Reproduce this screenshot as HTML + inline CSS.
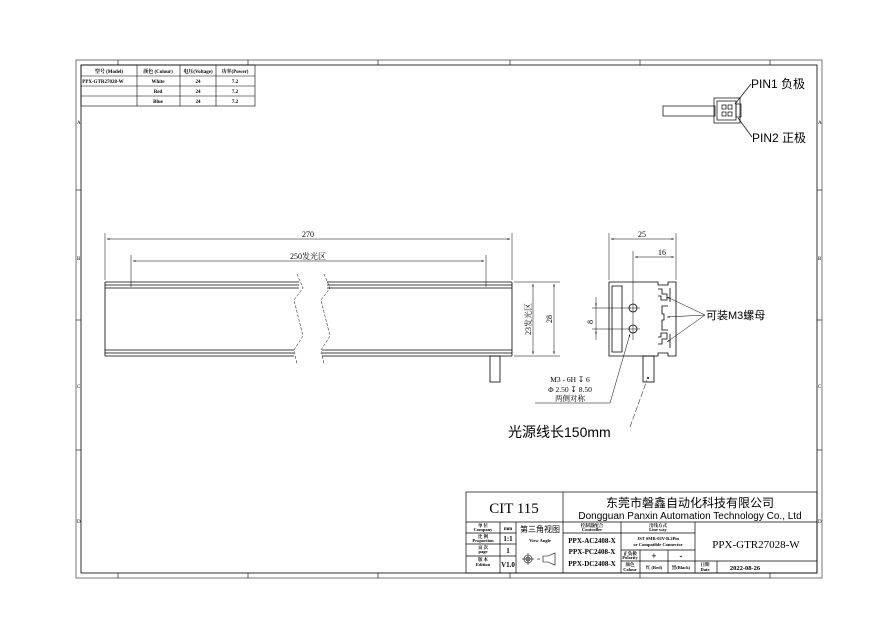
<!DOCTYPE html>
<html><head><meta charset="utf-8"><style>
html,body{margin:0;padding:0;background:#fff;}
svg{display:block;}
text{font-family:"Liberation Serif","Noto Serif CJK SC",serif;fill:#000;}
.s{font-family:"Liberation Sans","Noto Sans CJK SC",sans-serif;}
.b{font-family:"Liberation Sans","Noto Sans CJK SC",sans-serif;font-weight:bold;}
</style></head><body>
<svg width="885" height="642" viewBox="0 0 885 642" xmlns="http://www.w3.org/2000/svg">
<defs>
<marker id="a" viewBox="0 0 10 10" refX="10" refY="5" markerWidth="7" markerHeight="5" orient="auto-start-reverse"><path d="M0,2 L10,5 L0,8z" fill="#000"/></marker>
</defs>
<rect width="885" height="642" fill="#fff"/>
<g fill="none" stroke="#555" stroke-width="0.8">
<rect x="76" y="60" width="746" height="518"/>
<rect x="81" y="65" width="736" height="508" stroke="#000"/>
</g>
<g stroke="#000" stroke-width="0.6">
<line x1="118" y1="60" x2="118" y2="65"/><line x1="248" y1="60" x2="248" y2="65"/><line x1="378" y1="60" x2="378" y2="65"/><line x1="510" y1="60" x2="510" y2="65"/><line x1="640" y1="60" x2="640" y2="65"/><line x1="770" y1="60" x2="770" y2="65"/>
<line x1="118" y1="573" x2="118" y2="578"/><line x1="248" y1="573" x2="248" y2="578"/><line x1="378" y1="573" x2="378" y2="578"/><line x1="510" y1="573" x2="510" y2="578"/><line x1="640" y1="573" x2="640" y2="578"/><line x1="770" y1="573" x2="770" y2="578"/>
<line x1="76" y1="190" x2="81" y2="190"/><line x1="76" y1="320" x2="81" y2="320"/><line x1="76" y1="450" x2="81" y2="450"/>
<line x1="817" y1="190" x2="822" y2="190"/><line x1="817" y1="320" x2="822" y2="320"/><line x1="817" y1="450" x2="822" y2="450"/>
</g>
<g class="s" font-size="5"><text x="77" y="124">A</text><text x="77" y="260">B</text><text x="77" y="388">C</text><text x="77" y="523">D</text>
<text x="818" y="124">A</text><text x="818" y="260">B</text><text x="818" y="388">C</text><text x="818" y="523">D</text></g>

<g stroke="#000" stroke-width="0.6" fill="none">
<rect x="81" y="65" width="174" height="41"/>
<line x1="81" y1="76" x2="255" y2="76"/><line x1="81" y1="86" x2="255" y2="86"/><line x1="81" y1="96" x2="255" y2="96"/>
<line x1="137" y1="65" x2="137" y2="106"/><line x1="180" y1="65" x2="180" y2="106"/><line x1="216" y1="65" x2="216" y2="106"/>
</g>
<g class="b" font-size="5" text-anchor="middle">
<text x="109" y="73">型号 (Model)</text><text x="158" y="73">颜色 (Colour)</text><text x="198" y="73">电压(Voltage)</text><text x="235" y="73">功率(Power)</text>
<text x="103" y="83">PPX-GTR27028-W</text><text x="158" y="83">White</text><text x="198" y="83">24</text><text x="235" y="83">7.2</text>
<text x="158" y="93">Red</text><text x="198" y="93">24</text><text x="235" y="93">7.2</text>
<text x="158" y="103">Blue</text><text x="198" y="103">24</text><text x="235" y="103">7.2</text>
</g>

<g stroke="#000" stroke-width="0.7" fill="none">
<rect x="663" y="106" width="52" height="10"/>
<rect x="714" y="98" width="26" height="25"/>
<rect x="717" y="101" width="19" height="19"/>
<rect x="736" y="104" width="5" height="13"/>
<rect x="722" y="105" width="4" height="4"/><rect x="728" y="105" width="4" height="4"/>
<rect x="722" y="112" width="4" height="4"/><rect x="728" y="112" width="4" height="4"/>
<line x1="735" y1="104" x2="751" y2="84"/><line x1="738" y1="118" x2="752" y2="137"/>
</g>
<text class="s" x="751" y="88" font-size="12">PIN1 负极</text>
<text class="s" x="752" y="142" font-size="12">PIN2 正极</text>

<g stroke="#000" stroke-width="0.8" fill="none">
<line x1="105" y1="282" x2="299" y2="282"/><line x1="105" y1="285" x2="299" y2="285"/><line x1="105" y1="288" x2="299" y2="288"/>
<line x1="327" y1="282" x2="512" y2="282"/><line x1="327" y1="285" x2="512" y2="285"/><line x1="327" y1="288" x2="512" y2="288"/>
<line x1="105" y1="350" x2="294" y2="350"/><line x1="105" y1="353" x2="294" y2="353"/><line x1="105" y1="356" x2="294" y2="356"/>
<line x1="322" y1="350" x2="512" y2="350"/><line x1="322" y1="353" x2="512" y2="353"/><line x1="322" y1="356" x2="512" y2="356"/>
<line x1="105" y1="282" x2="105" y2="356"/><line x1="512" y1="282" x2="512" y2="356"/>
<rect x="490" y="356" width="10" height="26"/>
</g>
<g stroke="#000" stroke-width="0.5" fill="none" stroke-dasharray="3,1.5">
<path d="M297,274 L303,288 L294,300 L303,336 L294,350 L297,364"/>
<path d="M324,274 L330,288 L321,300 L330,336 L321,350 L324,364"/>
</g>
<g stroke="#000" stroke-width="0.5" fill="none">
<line x1="105" y1="233" x2="105" y2="280"/><line x1="512" y1="233" x2="512" y2="280"/>
<line x1="107" y1="239" x2="510" y2="239" marker-start="url(#a)" marker-end="url(#a)"/>
<line x1="131" y1="255" x2="131" y2="287"/><line x1="486" y1="255" x2="486" y2="287"/>
<line x1="133" y1="261" x2="484" y2="261" marker-start="url(#a)" marker-end="url(#a)"/>
<line x1="514" y1="282" x2="560" y2="282"/><line x1="514" y1="356" x2="560" y2="356"/>
<line x1="533" y1="284" x2="533" y2="354" marker-start="url(#a)" marker-end="url(#a)"/>
<line x1="554" y1="284" x2="554" y2="354" marker-start="url(#a)" marker-end="url(#a)"/>
</g>
<text x="308" y="237" font-size="8" text-anchor="middle">270</text>
<text x="308" y="259" font-size="8" text-anchor="middle">250发光区</text>
<text font-size="8" text-anchor="middle" transform="translate(531,319) rotate(-90)">23发光区</text>
<text font-size="8" text-anchor="middle" transform="translate(552,319) rotate(-90)">28</text>

<g stroke="#000" stroke-width="0.8" fill="none">
<path d="M609,282 L658,282 L658,285 L668,285 L668,282 L676,282 L676,356 L668,356 L668,353 L658,353 L658,356 L609,356 Z"/>
<path d="M612,286 L612,352 L622,352 L622,286 Z"/>
<path d="M658,289 L662,289 L662,294 L667,294 L667,300 L661,300 L661,296 L658,296"/>
<path d="M668,306 L662,306 L662,314 L664,314 L664,320 L662,320 L662,330 L668,330"/>
<path d="M658,344 L662,344 L662,339 L667,339 L667,333 L661,333 L661,337 L658,337"/>
<line x1="670" y1="288" x2="670" y2="302"/><line x1="670" y1="334" x2="670" y2="348"/>
<circle cx="633" cy="308" r="4"/><circle cx="633" cy="329" r="4"/>
<rect x="643" y="356" width="11" height="26"/>
</g>
<circle cx="648" cy="378" r="1" fill="#000"/>
<g stroke="#000" stroke-width="0.5" fill="none">
<line x1="609" y1="233" x2="609" y2="280"/><line x1="676" y1="233" x2="676" y2="280"/>
<line x1="611" y1="239" x2="674" y2="239" marker-start="url(#a)" marker-end="url(#a)"/>
<line x1="633" y1="251" x2="633" y2="340"/>
<line x1="635" y1="257" x2="674" y2="257" marker-start="url(#a)" marker-end="url(#a)"/>
<line x1="592" y1="308" x2="640" y2="308"/><line x1="592" y1="329" x2="640" y2="329"/>
<line x1="596" y1="297" x2="596" y2="306" marker-end="url(#a)"/>
<line x1="596" y1="340" x2="596" y2="331" marker-end="url(#a)"/>
<line x1="596" y1="306" x2="596" y2="331"/>
<line x1="705" y1="315" x2="667" y2="297" marker-end="url(#a)"/>
<line x1="705" y1="315" x2="667" y2="317" marker-end="url(#a)"/>
<line x1="705" y1="315" x2="667" y2="342" marker-end="url(#a)"/>
<line x1="535" y1="403" x2="610" y2="403"/>
<line x1="610" y1="403" x2="630" y2="334" marker-end="url(#a)"/>
<line x1="630" y1="427" x2="647" y2="380" stroke-dasharray="6,2"/>
</g>
<text font-size="8" transform="translate(593,322) rotate(-90)" text-anchor="middle">8</text>
<text x="662" y="255" font-size="8" text-anchor="middle">16</text>
<text x="642" y="237" font-size="8" text-anchor="middle">25</text>
<text class="s" x="706" y="319" font-size="11">可装M3螺母</text>
<text x="570" y="382" font-size="7.5" text-anchor="middle">M3 - 6H ↧ 6</text>
<text x="570" y="392" font-size="7.5" text-anchor="middle">Φ 2.50 ↧ 8.50</text>
<text x="570" y="401" font-size="7.5" text-anchor="middle">两侧对称</text>
<text class="s" x="508" y="437" font-size="14">光源线长150mm</text>

<g stroke="#000" stroke-width="0.7" fill="none">
<rect x="466" y="492" width="351" height="81"/>
<line x1="563" y1="492" x2="563" y2="573"/>
<line x1="466" y1="522" x2="817" y2="522"/>
<line x1="466" y1="533" x2="516" y2="533"/><line x1="466" y1="544" x2="516" y2="544"/><line x1="466" y1="556" x2="516" y2="556"/>
<line x1="500" y1="522" x2="500" y2="573"/><line x1="516" y1="522" x2="516" y2="573"/>
<line x1="563" y1="533" x2="695" y2="533"/>
<line x1="621" y1="522" x2="621" y2="573"/><line x1="695" y1="522" x2="695" y2="573"/>
<line x1="621" y1="550" x2="695" y2="550"/><line x1="621" y1="561" x2="817" y2="561"/>
<line x1="640" y1="550" x2="640" y2="573"/><line x1="668" y1="550" x2="668" y2="573"/>
<line x1="717" y1="561" x2="717" y2="573"/>
</g>
<text x="514" y="513" font-size="15" text-anchor="middle">CIT 115</text>
<text class="s" x="690" y="507" font-size="12" text-anchor="middle">东莞市磐鑫自动化科技有限公司</text>
<text class="s" x="690" y="519" font-size="10" text-anchor="middle">Dongguan Panxin Automation Technology Co., Ltd</text>
<g class="b" font-size="4.5" text-anchor="middle">
<text x="483" y="527">单 位</text><text x="483" y="531">Company</text>
<text x="483" y="538">比 例</text><text x="483" y="542">Proportion</text>
<text x="483" y="549">页 次</text><text x="483" y="553">page</text>
<text x="483" y="561">版 本</text><text x="483" y="566">Edition</text>
<text x="508" y="530" font-size="5">mm</text>
<text x="592" y="527">控制器配合</text><text x="592" y="531">Controller</text>
<text x="658" y="527">出线方式</text><text x="658" y="531">Line way</text>
<text x="658" y="540">JST SMR-02V-B.2Pin</text><text x="658" y="546">or Compatible Connector</text>
<text x="630" y="555">正负极</text><text x="630" y="559">Polarity</text>
<text x="630" y="566">颜色</text><text x="630" y="571">Colour</text>
<text x="705" y="566">日期</text><text x="705" y="571">Date</text>
<text x="540" y="542">View Angle</text>
<text x="654" y="569">红 (Red)</text><text x="681" y="569">黑(Black)</text>
</g>
<g font-size="7" text-anchor="middle" font-weight="bold">
<text x="508" y="541">1:1</text><text x="508" y="553">1</text><text x="508" y="567">V1.0</text>
<text x="592" y="543">PPX-AC2408-X</text><text x="592" y="554">PPX-PC2408-X</text><text x="592" y="566">PPX-DC2408-X</text>
<text x="654" y="559" font-size="9">+</text><text x="681" y="559" font-size="9">-</text>
<text x="756" y="548" font-size="11" font-weight="normal">PPX-GTR27028-W</text>
<text x="745" y="570" font-size="6.5">2022-08-26</text>
</g>
<text class="s" x="540" y="532" font-size="8" text-anchor="middle">第三角视图</text>
<g stroke="#000" stroke-width="0.6" fill="none">
<circle cx="528" cy="559" r="4"/><circle cx="528" cy="559" r="2"/>
<line x1="522" y1="559" x2="534" y2="559"/><line x1="528" y1="553" x2="528" y2="565"/>
<line x1="537" y1="559" x2="540" y2="559"/>
<path d="M543,556 L548,556 L555,553 L555,565 L548,562 L543,562 Z"/>
</g>
</svg>
</body></html>
